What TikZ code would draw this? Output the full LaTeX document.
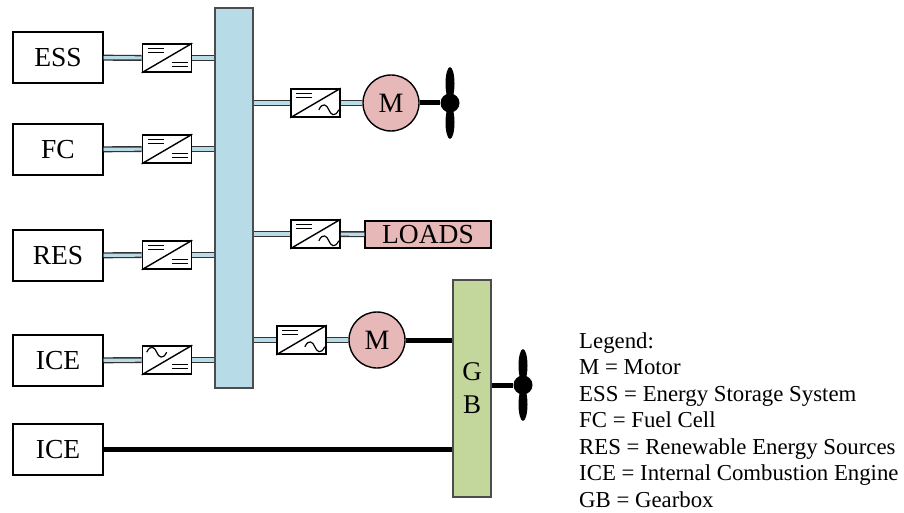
\documentclass[tikz,border=0pt]{standalone}
\usepackage{fontspec}
\setmainfont{Liberation Serif}
\usetikzlibrary{positioning,shapes.geometric}
\definecolor{busblue}{RGB}{183,220,232}
\definecolor{motorred}{RGB}{230,184,183}
\definecolor{gbgreen}{RGB}{195,214,155}
\tikzset{
  srcbox/.style  = {shape=rectangle, draw, line width=1.2pt, minimum width=90pt, minimum height=51pt,
                    inner sep=0pt, font=\fontsize{27.5}{30}\selectfont},
  conv/.style    = {shape=rectangle, draw, line width=1.6pt, minimum width=49pt, minimum height=28pt,
                    inner sep=0pt},
  bus/.style     = {shape=rectangle, draw=black!70, line width=1.2pt, fill=busblue, inner sep=0pt},
  motor/.style   = {shape=circle, draw, line width=1.4pt, fill=motorred, minimum size=56pt, inner sep=0pt,
                    font=\fontsize{28}{30}\selectfont},
  blade/.style   = {shape=ellipse, fill=black, minimum width=9pt, minimum height=33pt, inner sep=0pt},
  hub/.style     = {shape=circle, fill=black, minimum size=19pt, inner sep=0pt},
  cable/.style   = {draw=black!80, line width=1.4pt, double=busblue, double distance=3.2pt},
  shaft/.style   = {draw=black, line width=5pt},
  dcsym/.pic     = {\draw[line width=1.2pt] (-8,-2) -- (8,-2) (-8,2) -- (8,2);},
  acsym/.pic     = {\draw[line width=1.2pt] (-10,0) .. controls (-6,-8) and (-2,-5) .. (0,0)
                     .. controls (2,5) and (6,8) .. (10,0);}
}
\begin{document}
\begin{tikzpicture}[x=1pt,y=-1pt]
 \useasboundingbox (0,0) rectangle (904,513);

 % main bus and gearbox
 \node [bus,minimum width=38pt,minimum height=380pt] (bus) at (234,198) {};
 \node [bus,fill=gbgreen,minimum width=38pt,minimum height=217pt,align=center,
        font=\fontsize{27}{33}\selectfont] (gb) at (472,388.5) {G\\B};

 % sources
 \node [srcbox] (ess)  at (58,57.5)  {ESS};
 \node [srcbox] (fc)   at (58,149.5) {FC};
 \node [srcbox] (res)  at (58,255.5) {RES};
 \node [srcbox] (ice)  at (58,360.5) {ICE};
 \node [srcbox] (ice2) at (58,449.5) {ICE};

 % converters on the source side
 \node [conv] (c1) at (167,58)  {};
 \node [conv] (c2) at (167,149) {};
 \node [conv] (c3) at (167,255) {};
 \node [conv] (c4) at (167,360) {};

 % converters on the load side
 \node [conv] (c5) at (315.5,103) {};
 \node [conv] (c6) at (315.5,234) {};
 \node [conv] (c7) at (301.5,340) {};

 \foreach \c in {c1,c2,c3,c5,c6,c7}
   \pic at ([xshift=14pt,yshift=-7pt]\c.north west) {dcsym};
 \foreach \c in {c1,c2,c3,c4}
   \pic at ([xshift=-12.5pt,yshift=8pt]\c.south east) {dcsym};
 \foreach \c in {c5,c6,c7}
   \pic at ([xshift=-12pt,yshift=8pt]\c.south east) {acsym};
 \pic at ([xshift=15pt,yshift=-7pt]c4.north west) {acsym};

 \foreach \c in {c1,c2,c3,c4,c5,c6,c7}
   \draw [line width=1.4pt] (\c.south west) -- (\c.north east);

 % motors, loads
 \node [motor] (m1) at (391,103) {M};
 \node [motor] (m2) at (377,340) {M};
 \node [bus,draw=black,fill=motorred,minimum width=126pt,minimum height=27pt,
        font=\fontsize{27.5}{30}\selectfont] (loads) at (428,234.5) {LOADS};

 % propellers
 \node [hub] (h1) at (450,103) {};
 \node [blade,above=-7pt of h1] (b1) {};
 \node [blade,below=-7pt of h1] (b2) {};
 \node [hub] (h2) at (523,385) {};
 \node [blade,above=-7pt of h2] (b3) {};
 \node [blade,below=-7pt of h2] (b4) {};

 % cables
 \foreach \a/\b in {ess/c1,fc/c2,res/c3,ice/c4}
   \draw [cable] (\a) -- (\b);
 \foreach \c in {c1,c2,c3,c4}
   \draw [cable] (\c.east) -- (\c.east -| bus.west);
 \foreach \c in {c5,c6,c7}
   \draw [cable] (\c.west) -- (\c.west -| bus.east);
 \draw [cable] (c5) -- (m1);
 \draw [cable] (c6) -- (loads);
 \draw [cable] (c7) -- (m2);

 % shafts
 \draw [shaft] (m1) -- (h1);
 \draw [shaft] (m2.east) -- (m2.east -| gb.west);
 \draw [shaft] (ice2.east) -- (ice2.east -| gb.west);
 \draw [shaft] (h2) -- (h2 -| gb.east);

 \node [align=left,anchor=north west,inner sep=0pt,font=\fontsize{22.8}{26.5}\selectfont] (legend) at (579,332)
   {Legend:\\M = Motor\\ESS = Energy Storage System\\FC = Fuel Cell\\RES = Renewable Energy Sources\\
    ICE = Internal Combustion Engine\\GB = Gearbox};
\end{tikzpicture}
\end{document}
